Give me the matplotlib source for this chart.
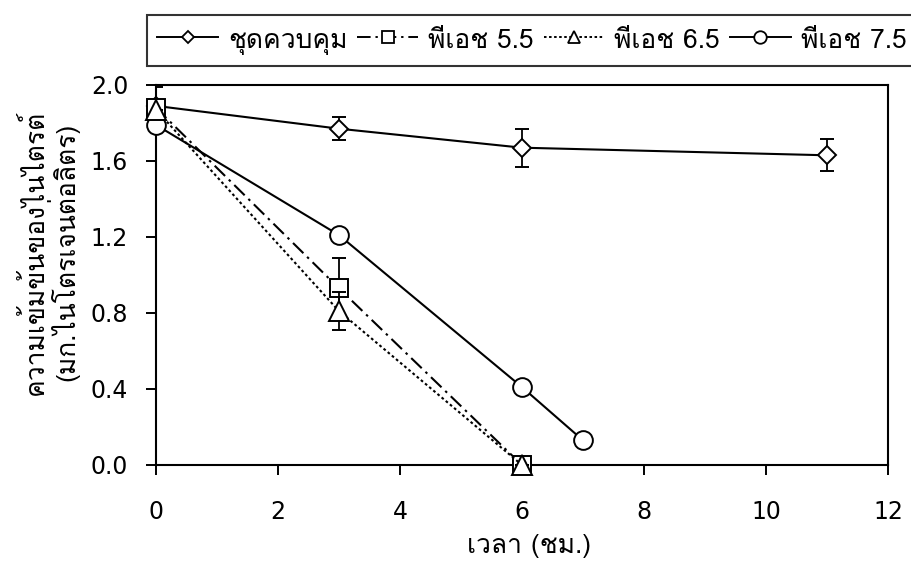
import matplotlib
matplotlib.use("Agg")
import matplotlib.pyplot as plt
from matplotlib import font_manager as fm
from matplotlib.ft2font import FT2Font
from matplotlib.lines import Line2D


def find_thai_family():
    """Return the name of an installed font that covers the Thai block."""
    seen = set()
    for f in fm.fontManager.ttflist:
        if f.name in seen:
            continue
        seen.add(f.name)
        try:
            cmap = FT2Font(f.fname).get_charmap()
        except Exception:
            continue
        if all(cp in cmap for cp in (0x0E01, 0x0E27, 0x0E40, 0x0E35)):
            return f.name
    return None


thai = find_thai_family()
text_families = ([thai] if thai else []) + ["DejaVu Sans"]
plt.rcParams["font.family"] = ["DejaVu Sans"]

# ---- data -------------------------------------------------------------
series_names = ["ชุดควบคุม", "พีเอช 5.5", "พีเอช 6.5", "พีเอช 7.5"]

control_t = [0, 3, 6, 11]
control_y = [1.89, 1.77, 1.67, 1.63]
control_err = [0.10, 0.06, 0.10, 0.085]

ph55_t = [0, 3, 6]
ph55_y = [1.88, 0.93, 0.0]
ph55_err = [0.0, 0.16, 0.0]

ph65_t = [0, 3, 6]
ph65_y = [1.87, 0.81, 0.0]
ph65_err = [0.0, 0.10, 0.0]

ph75_t = [0, 3, 6, 7]
ph75_y = [1.79, 1.21, 0.41, 0.13]
ph75_err = [0.0, 0.0, 0.0, 0.0]

x_ticks = [0, 2, 4, 6, 8, 10, 12]
y_ticks = [0.0, 0.4, 0.8, 1.2, 1.6, 2.0]

x_label = "เวลา (ชม.)"
y_label = "ความเข้มข้นของไนไตรต์\n(มก.ไนโตรเจนต่อลิตร)"

# ---- styles -----------------------------------------------------------
dashdot = (0, (7, 2.5, 1.2, 2.5))
dotted = (0, (1.3, 1.3))
styles = [
    dict(marker="D", ms=8.9, ls="-", leg_ms=6.5, z=3),
    dict(marker="s", ms=13.3, ls=dashdot, leg_ms=8.5, z=4),
    dict(marker="^", ms=13.7, ls=dotted, leg_ms=9, z=5),
    dict(marker="o", ms=13.5, ls="-", leg_ms=9, z=3),
]
series = [
    (control_t, control_y, control_err),
    (ph55_t, ph55_y, ph55_err),
    (ph65_t, ph65_y, ph65_err),
    (ph75_t, ph75_y, ph75_err),
]

# ---- figure -----------------------------------------------------------
fig = plt.figure(figsize=(9.11, 5.67), dpi=100)
ax = fig.add_axes([0.1712, 0.1799, 0.8035, 0.6702])

handles = []
for (t, y, e), st, name in zip(series, styles, series_names):
    cont = ax.errorbar(t, y, yerr=e, marker=st["marker"], ms=st["ms"],
                       ls=st["ls"], color="black", mfc="white", mec="black",
                       mew=1.4, lw=1.5, ecolor="black", elinewidth=1.3,
                       capsize=5, capthick=1.3, zorder=st["z"])
    cont.lines[0].set_clip_on(False)
    handles.append(Line2D([], [], color="black", lw=1.4, ls=st["ls"],
                          marker=st["marker"], ms=st["leg_ms"], mfc="white",
                          mec="black", mew=1.3, label=name))

ax.set_xlim(0, 12)
ax.set_ylim(0, 2.0)
ax.set_xticks(x_ticks)
ax.set_xticklabels([str(v) for v in x_ticks])
ax.set_yticks(y_ticks)
ax.set_yticklabels([f"{v:.1f}" for v in y_ticks])

for s in ax.spines.values():
    s.set_linewidth(1.5)
    s.set_color("black")
ax.tick_params(axis="both", direction="out", length=7, width=1.4,
               labelsize=17, colors="black")
ax.tick_params(axis="x", pad=18)
ax.tick_params(axis="y", pad=13)

ax.set_xlabel(x_label, fontsize=19, family=text_families)
ax.xaxis.set_label_coords(0.51, -0.213)
ax.xaxis.label.set_va("center")

ax.set_ylabel(y_label, fontsize=19, family=text_families, linespacing=0.95)
ax.yaxis.set_label_coords(-0.145, 0.56)
ax.yaxis.label.set_va("center")

leg = fig.legend(handles=handles, loc="upper left",
                 bbox_to_anchor=(0.161, 0.9735),
                 bbox_transform=fig.transFigure, ncol=4, frameon=True,
                 fancybox=False, shadow=False, borderaxespad=0,
                 handlelength=2.3, handletextpad=0.38, columnspacing=0.38,
                 handleheight=1.2, borderpad=0.4,
                 prop={"family": text_families, "size": 19})
leg.get_frame().set_edgecolor("black")
leg.get_frame().set_linewidth(1.5)

fig.savefig("out.png", dpi=100)
